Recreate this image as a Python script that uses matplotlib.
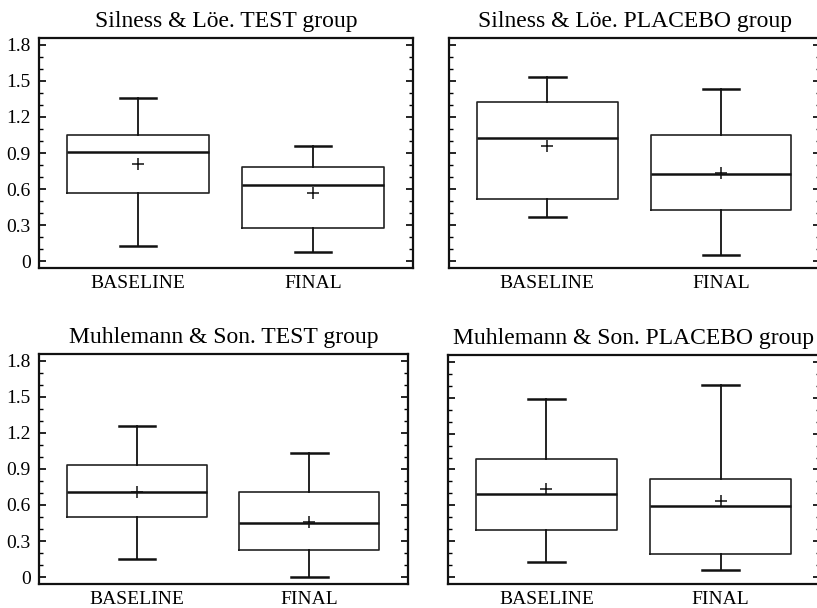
import matplotlib
matplotlib.use('Agg')
import matplotlib.pyplot as plt
from matplotlib.ticker import MultipleLocator, FuncFormatter

plt.rcParams['font.family'] = ['Liberation Serif', 'DejaVu Serif']

groups = ['BASELINE', 'FINAL']
titles = ['Silness & Löe. TEST group', 'Silness & Löe. PLACEBO group',
          'Muhlemann & Son. TEST group', 'Muhlemann & Son. PLACEBO group']

# per panel: [BASELINE, FINAL]
whislo = [[0.125, 0.075], [0.367, 0.047], [0.154, 0.0], [0.130, 0.055]]
q1 = [[0.569, 0.278], [0.517, 0.428], [0.496, 0.229], [0.394, 0.193]]
med = [[0.908, 0.633], [1.028, 0.722], [0.711, 0.449], [0.695, 0.595]]
q3 = [[1.053, 0.786], [1.322, 1.053], [0.934, 0.708], [0.987, 0.821]]
whishi = [[1.356, 0.961], [1.533, 1.433], [1.262, 1.034], [1.488, 1.604]]
means = [[0.808, 0.569], [0.961, 0.731], [0.706, 0.455], [0.736, 0.634]]

# axes rectangles in figure fractions
rects = [[0.0477, 0.5592, 0.4578, 0.3783],
         [0.5496, 0.5592, 0.4541, 0.3783],
         [0.0477, 0.0395, 0.4517, 0.3783],
         [0.5483, 0.0395, 0.4553, 0.3766]]

fig = plt.figure(figsize=(8.17, 6.08), dpi=100)

for i in range(4):
    ax = fig.add_axes(rects[i])
    stats = []
    for j in range(2):
        stats.append({'whislo': whislo[i][j], 'q1': q1[i][j], 'med': med[i][j],
                      'q3': q3[i][j], 'whishi': whishi[i][j], 'mean': means[i][j],
                      'fliers': [], 'label': groups[j]})
    ax.bxp(stats, positions=[1, 2], widths=0.81, showmeans=True,
           boxprops=dict(color='#222222', linewidth=1.2),
           medianprops=dict(color='#111111', linewidth=1.8),
           whiskerprops=dict(color='#111111', linewidth=1.3),
           capprops=dict(color='#111111', linewidth=1.8),
           capwidths=0.21,
           meanprops=dict(marker='+', markeredgecolor='#111111', markersize=8,
                          markeredgewidth=1.1))
    ax.set_xlim(0.434, 2.571)
    ax.set_ylim(-0.058, 1.858)
    ax.yaxis.set_major_locator(MultipleLocator(0.3))
    ax.yaxis.set_minor_locator(MultipleLocator(0.1))
    ax.yaxis.set_major_formatter(FuncFormatter(lambda v, p: '0' if abs(v) < 1e-9 else '%.1f' % v))
    ax.tick_params(axis='y', which='both', direction='in', left=True, right=True)
    ax.tick_params(axis='y', which='major', length=5, width=1.2, labelsize=14, pad=6)
    ax.tick_params(axis='y', which='minor', length=3, width=1.0)
    ax.tick_params(axis='x', length=0, labelsize=14, pad=5)
    if i % 2 == 1:
        ax.tick_params(axis='y', which='both', labelleft=False)
    for s in ax.spines.values():
        s.set_linewidth(1.6)
        s.set_color('#111111')
    ax.set_title(titles[i], fontsize=17, pad=8)

fig.savefig('out.png', dpi=100)
